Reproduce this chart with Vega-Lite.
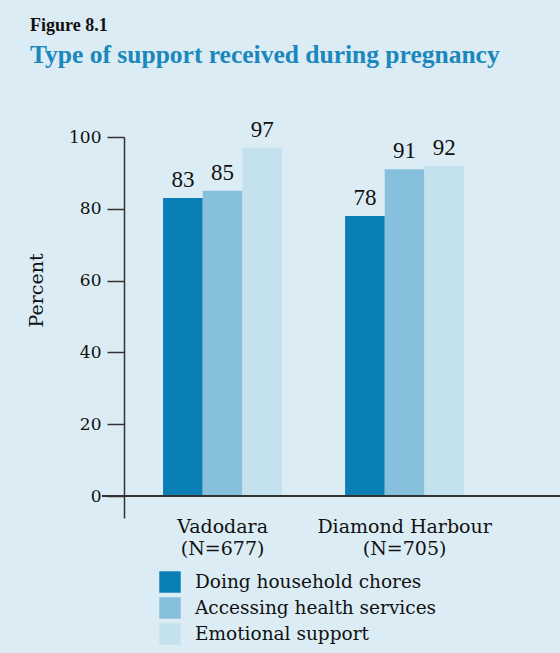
{
  "$schema": "https://vega.github.io/schema/vega-lite/v6.json",
  "autosize": {"type": "none"},
  "padding": {"left": 102, "top": 137, "right": 0, "bottom": 135},
  "width": 458,
  "height": 381,
  "background": "#dbecf4",
  "title": {
    "text": "Figure 8.1",
    "subtitle": "Type of support received during pregnancy",
    "anchor": "start",
    "frame": "group",
    "dx": -72,
    "offset": 50,
    "font": "Liberation Serif",
    "fontSize": 18,
    "fontWeight": "bold",
    "color": "#111111",
    "subtitleFont": "Liberation Serif",
    "subtitleFontSize": 25.5,
    "subtitleFontWeight": "bold",
    "subtitleColor": "#1a87bd",
    "subtitlePadding": 8
  },
  "data": {
    "values": [
      {"site": "Vadodara", "type": "Doing household chores", "value": 83},
      {"site": "Vadodara", "type": "Accessing health services", "value": 85},
      {"site": "Vadodara", "type": "Emotional support", "value": 97},
      {"site": "Diamond Harbour", "type": "Doing household chores", "value": 78},
      {"site": "Diamond Harbour", "type": "Accessing health services", "value": 91},
      {"site": "Diamond Harbour", "type": "Emotional support", "value": 92}
    ]
  },
  "encoding": {
    "x": {
      "field": "site",
      "type": "nominal",
      "sort": ["Vadodara", "Diamond Harbour"],
      "scale": {"paddingInner": 0.346, "paddingOuter": 0.431, "align": 0.389},
      "axis": {
        "title": null,
        "domain": false,
        "ticks": false,
        "labelAngle": 0,
        "labelPadding": -1,
        "labelBaseline": "top",
        "labelFont": "DejaVu Serif",
        "labelFontSize": 19,
        "labelColor": "#111111",
        "labelLineHeight": 22,
        "labelExpr": "datum.value == 'Vadodara' ? ['Vadodara', '(N=677)'] : ['Diamond Harbour', '(N=705)']"
      }
    },
    "y": {
      "field": "value",
      "type": "quantitative",
      "scale": {"domain": [-6.1, 100], "nice": false, "zero": true},
      "axis": {
        "title": "Percent",
        "titleFont": "DejaVu Serif",
        "titleFontSize": 19,
        "titleFontWeight": "normal",
        "titleColor": "#111111",
        "titlePadding": 22,
        "titleY": 153,
        "values": [0, 20, 40, 60, 80, 100],
        "offset": -22,
        "tickSize": 17,
        "tickColor": "#333333",
        "tickWidth": 1.5,
        "domainColor": "#333333",
        "domainWidth": 1.5,
        "grid": false,
        "labelFont": "DejaVu Serif",
        "labelFontSize": 17,
        "labelColor": "#111111",
        "labelPadding": 6
      }
    }
  },
  "layer": [
    {
      "mark": {"type": "bar"},
      "encoding": {
        "xOffset": {"field": "type", "type": "nominal", "sort": ["Doing household chores", "Accessing health services", "Emotional support"], "scale": {"paddingInner": 0, "paddingOuter": 0}},
        "color": {
          "field": "type",
          "type": "nominal",
          "sort": ["Doing household chores", "Accessing health services", "Emotional support"],
          "scale": {"domain": ["Doing household chores", "Accessing health services", "Emotional support"], "range": ["#0a7fb5", "#86c0dd", "#c4e1ee"]},
          "legend": {
            "title": null,
            "orient": "none",
            "legendX": 57,
            "legendY": 434,
            "direction": "vertical",
            "symbolType": "square",
            "symbolSize": 460,
            "symbolStrokeWidth": 0,
            "symbolOpacity": 1,
            "labelFont": "DejaVu Serif",
            "labelFontSize": 18.5,
            "labelColor": "#111111",
            "labelOffset": 14,
            "labelLimit": 0,
            "rowPadding": 4,
            "padding": 0
          }
        }
      }
    },
    {
      "mark": {"type": "text", "baseline": "bottom", "dy": -6, "font": "Liberation Serif", "fontSize": 23, "color": "#111111"},
      "encoding": {
        "xOffset": {"field": "type", "type": "nominal", "sort": ["Doing household chores", "Accessing health services", "Emotional support"]},
        "text": {"field": "value", "type": "quantitative"}
      }
    },
    {
      "mark": {"type": "rule", "color": "#333333", "strokeWidth": 1.5},
      "encoding": {"y": {"datum": 0}, "x": null}
    }
  ],
  "config": {"view": {"stroke": null}}
}
